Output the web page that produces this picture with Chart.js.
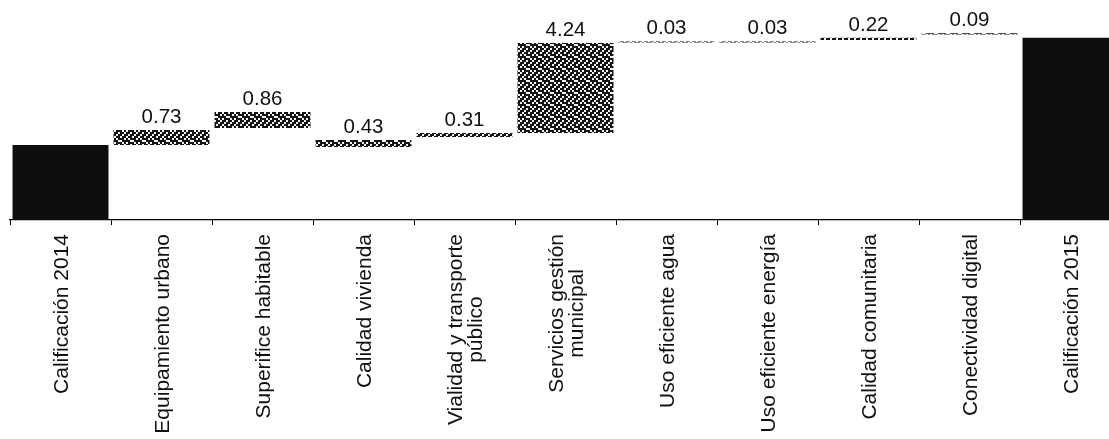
<!DOCTYPE html>
<html>
<head>
<meta charset="utf-8">
<script src="https://cdn.jsdelivr.net/npm/chart.js@4/dist/chart.umd.min.js"></script>
<style>
  html, body { margin: 0; padding: 0; background: #fff; overflow: hidden; }
  #wrap { width: 1121px; height: 439px; position: relative; }
</style>
</head>
<body>
<div id="wrap"><canvas id="chart"></canvas></div>
<script>
// Categories (each entry is the list of lines of the rotated label)
const CATEGORIES = [
  ['Calificación 2014'],
  ['Equipamiento urbano'],
  ['Superifice habitable'],
  ['Calidad vivienda'],
  ['Vialidad y transporte', 'público'],
  ['Servicios gestión', 'municipal'],
  ['Uso eficiente agua'],
  ['Uso eficiente energía'],
  ['Calidad comunitaria'],
  ['Conectividad digital'],
  ['Calificación 2015'],
];

// Floating bar extents as drawn in the picture (bottom / top)
const BAR_LOW  = [0,    3.55, 4.35, 3.45, 3.92, 4.11, 8.39, 8.39, 8.51, 8.77, 0];
const BAR_HIGH = [3.55, 4.26, 5.11, 3.78, 4.11, 8.37, 8.44, 8.44, 8.61, 8.83, 8.61];

// Printed change labels (null = no label)
const VALUE_LABELS = [null, '0.73', '0.86', '0.43', '0.31', '4.24', '0.03', '0.03', '0.22', '0.09', null];

const IS_TOTAL = [true, false, false, false, false, false, false, false, false, false, true];

const Y_MAX = 10.4;

// dithered grey fill, like the scanned hatching
function makeDither() {
  const mask = [
    1, 1, 0, 1, 1, 0,
    1, 0, 1, 1, 0, 1,
    0, 1, 1, 0, 1, 1,
    1, 1, 0, 1, 0, 1,
    0, 1, 1, 1, 1, 0,
    1, 0, 1, 0, 1, 1,
  ];
  const c = document.createElement('canvas');
  c.width = 12; c.height = 12;
  const g = c.getContext('2d');
  g.fillStyle = '#f4f4f4';
  g.fillRect(0, 0, 12, 12);
  g.fillStyle = '#151515';
  mask.forEach((m, i) => { if (m) g.fillRect((i % 6) * 2, Math.floor(i / 6) * 2, 2, 2); });
  return g.createPattern(c, 'repeat');
}
const DITHER = makeDither();

// ── value labels above the change bars ────────────────────────────────────
const valueLabels = {
  id: 'valueLabels',
  afterDatasetsDraw(chart) {
    const { ctx } = chart;
    const meta = chart.getDatasetMeta(0);
    ctx.save();
    ctx.font = "20.5px 'Liberation Sans', Arial, sans-serif";
    ctx.fillStyle = '#111';
    ctx.textAlign = 'center';
    ctx.textBaseline = 'alphabetic';
    meta.data.forEach((bar, i) => {
      if (!VALUE_LABELS[i]) return;
      const top = Math.min(bar.y, bar.base);
      ctx.fillText(VALUE_LABELS[i], bar.x, top - 7);
    });
    ctx.restore();
  },
};

// ── rotated category labels, lines centred on each other ──────────────────
const rotatedLabels = {
  id: 'rotatedLabels',
  afterDraw(chart) {
    const { ctx } = chart;
    const xs = chart.scales.x;
    const anchorY = xs.top + 14;
    const lineH = 20;
    ctx.save();
    ctx.font = "21px 'Liberation Sans', Arial, sans-serif";
    ctx.fillStyle = '#111';
    ctx.textBaseline = 'middle';
    ctx.textAlign = 'center';
    CATEGORIES.forEach((lines, i) => {
      const x = xs.getPixelForValue(i) + 1.5;
      const maxW = Math.max(...lines.map(l => ctx.measureText(l).width));
      ctx.save();
      ctx.translate(x, anchorY);
      ctx.rotate(-Math.PI / 2);
      lines.forEach((l, j) => {
        const off = (j - (lines.length - 1) / 2) * lineH;
        ctx.fillText(l, -maxW / 2, off);
      });
      ctx.restore();
    });
    ctx.restore();
  },
};

new Chart(document.getElementById('chart'), {
  type: 'bar',
  data: {
    labels: CATEGORIES.map(c => c.join(' ')),
    datasets: [{
      data: BAR_LOW.map((lo, i) => [lo, BAR_HIGH[i]]),
      backgroundColor: ctx => (IS_TOTAL[ctx.dataIndex] ? '#0e0e0e' : DITHER),
      borderWidth: 0,
      borderSkipped: false,
      categoryPercentage: 1,
      barPercentage: 0.95,
    }],
  },
  options: {
    responsive: true,
    maintainAspectRatio: false,
    animation: false,
    layout: { padding: { left: 10, right: 0, top: 0, bottom: 0 } },
    plugins: {
      legend: { display: false },
      tooltip: { enabled: false },
    },
    scales: {
      x: {
        offset: true,
        grid: {
          display: true,
          offset: true,
          drawOnChartArea: false,
          drawTicks: true,
          tickLength: 5,
          color: '#000',
          lineWidth: 1,
        },
        border: { display: true, color: '#000', width: 1.2 },
        ticks: { display: false },
        afterFit: s => { s.height = 219; },
      },
      y: {
        display: false,
        min: 0,
        max: Y_MAX,
      },
    },
  },
  plugins: [valueLabels, rotatedLabels],
});
</script>
</body>
</html>
